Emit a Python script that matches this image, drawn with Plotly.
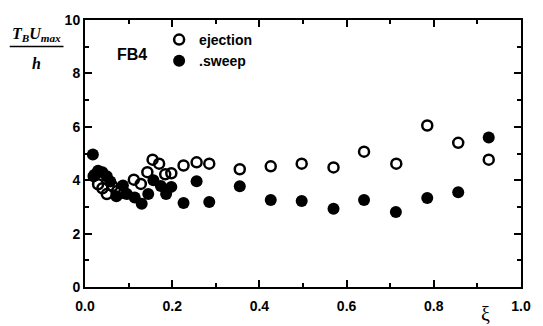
import plotly.graph_objects as go

# Data
ejection_x = [0.020, 0.030, 0.040, 0.050, 0.063, 0.074, 0.090, 0.112, 0.128, 0.143,
              0.155, 0.170, 0.184, 0.198, 0.226, 0.256, 0.285, 0.355, 0.426, 0.497,
              0.570, 0.640, 0.714, 0.785, 0.856, 0.926]
ejection_y = [4.15, 3.85, 3.70, 3.48, 3.78, 3.60, 3.52, 4.02, 3.86, 4.30,
              4.77, 4.62, 4.22, 4.26, 4.55, 4.67, 4.62, 4.41, 4.52, 4.62,
              4.48, 5.07, 4.62, 6.05, 5.40, 4.77]

sweep_x = [0.018, 0.022, 0.030, 0.040, 0.050, 0.058, 0.072, 0.087, 0.096, 0.114,
           0.130, 0.145, 0.157, 0.174, 0.186, 0.198, 0.226, 0.256, 0.285, 0.355,
           0.426, 0.497, 0.570, 0.640, 0.713, 0.785, 0.856, 0.926]
sweep_y = [4.96, 4.20, 4.35, 4.30, 4.15, 3.95, 3.40, 3.80, 3.48, 3.35,
           3.12, 3.48, 4.00, 3.78, 3.48, 3.75, 3.15, 3.96, 3.18, 3.77,
           3.26, 3.22, 2.93, 3.26, 2.81, 3.33, 3.55, 5.60]

x_ticks = [0.0, 0.2, 0.4, 0.6, 0.8, 1.0]
x_ticklabels = ["0.0", "0.2", "0.4", "0.6", "0.8", "1.0"]
y_ticks = [0, 2, 4, 6, 8, 10]
y_ticklabels = ["0", "2", "4", "6", "8", "10"]

FONT = "Liberation Sans, Arial, sans-serif"
SERIF = "Liberation Serif, Times New Roman, serif"

L, R, T, B = 85, 12, 15, 39
W, H = 543, 326
PW, PH = W - L - R, H - T - B


def px(xpix):
    return (xpix - L) / PW


def py(ypix):
    return (H - B - ypix) / PH


fig = go.Figure()
fig.add_trace(go.Scatter(
    x=ejection_x, y=ejection_y, mode="markers", name="ejection",
    marker=dict(symbol="circle-open", size=10, color="black", line=dict(width=2.5, color="black")),
))
fig.add_trace(go.Scatter(
    x=sweep_x, y=sweep_y, mode="markers", name=".sweep",
    marker=dict(symbol="circle", size=12, color="black", line=dict(width=0)),
))

fig.update_layout(
    width=W, height=H,
    margin=dict(l=L, r=R, t=T, b=B),
    paper_bgcolor="white", plot_bgcolor="white",
    font=dict(family=FONT, size=13, color="black"),
    showlegend=True,
    legend=dict(
        x=0.17, y=0.985, xanchor="left", yanchor="top",
        bgcolor="rgba(0,0,0,0)", borderwidth=0,
        font=dict(family=FONT, size=14, color="black", weight="bold"),
        itemwidth=30, tracegroupgap=0,
    ),
    xaxis=dict(
        range=[0, 1], tickvals=x_ticks, ticktext=x_ticklabels,
        showgrid=False, zeroline=False,
        showline=True, linecolor="black", linewidth=2, mirror="ticks",
        ticks="inside", ticklen=7, tickwidth=2, tickcolor="black",
        ticklabelstandoff=5,
        tickfont=dict(family=FONT, size=14, color="black", weight="bold"),
        minor=dict(ticks="inside", ticklen=4, tickwidth=2, tickcolor="black", dtick=0.1, showgrid=False),
    ),
    yaxis=dict(
        range=[0, 10], tickvals=y_ticks, ticktext=y_ticklabels,
        showgrid=False, zeroline=False,
        showline=True, linecolor="black", linewidth=2, mirror="ticks",
        ticks="inside", ticklen=7, tickwidth=2, tickcolor="black",
        tickfont=dict(family=FONT, size=14, color="black", weight="bold"),
        minor=dict(ticks="inside", ticklen=4, tickwidth=2, tickcolor="black", dtick=1, showgrid=False),
    ),
)

# FB4 label
fig.add_annotation(text="<b>FB4</b>", xref="paper", yref="paper", x=px(133), y=py(50),
                   xanchor="center", yanchor="middle",
                   showarrow=False, font=dict(family=FONT, size=16, color="black"))
# xi axis label
fig.add_annotation(text="ξ", xref="paper", yref="paper", x=px(495), y=py(314),
                   xanchor="center", yanchor="middle",
                   showarrow=False, font=dict(family=SERIF, size=20, color="black"))
# y axis fraction label
fig.add_annotation(text="<i><b>T<sub>B</sub>U<sub>max</sub></b></i>", xref="paper", yref="paper",
                   x=px(35), y=py(30), xanchor="center", yanchor="middle", showarrow=False,
                   font=dict(family=SERIF, size=16, color="black"))
fig.add_annotation(text="<i><b>h</b></i>", xref="paper", yref="paper",
                   x=px(35), y=py(59), xanchor="center", yanchor="middle", showarrow=False,
                   font=dict(family=SERIF, size=16, color="black"))
fig.add_shape(type="line", xref="paper", yref="paper",
              x0=px(8), x1=px(63), y0=py(42), y1=py(42),
              line=dict(color="black", width=1.5))

fig.write_html("out.html")
